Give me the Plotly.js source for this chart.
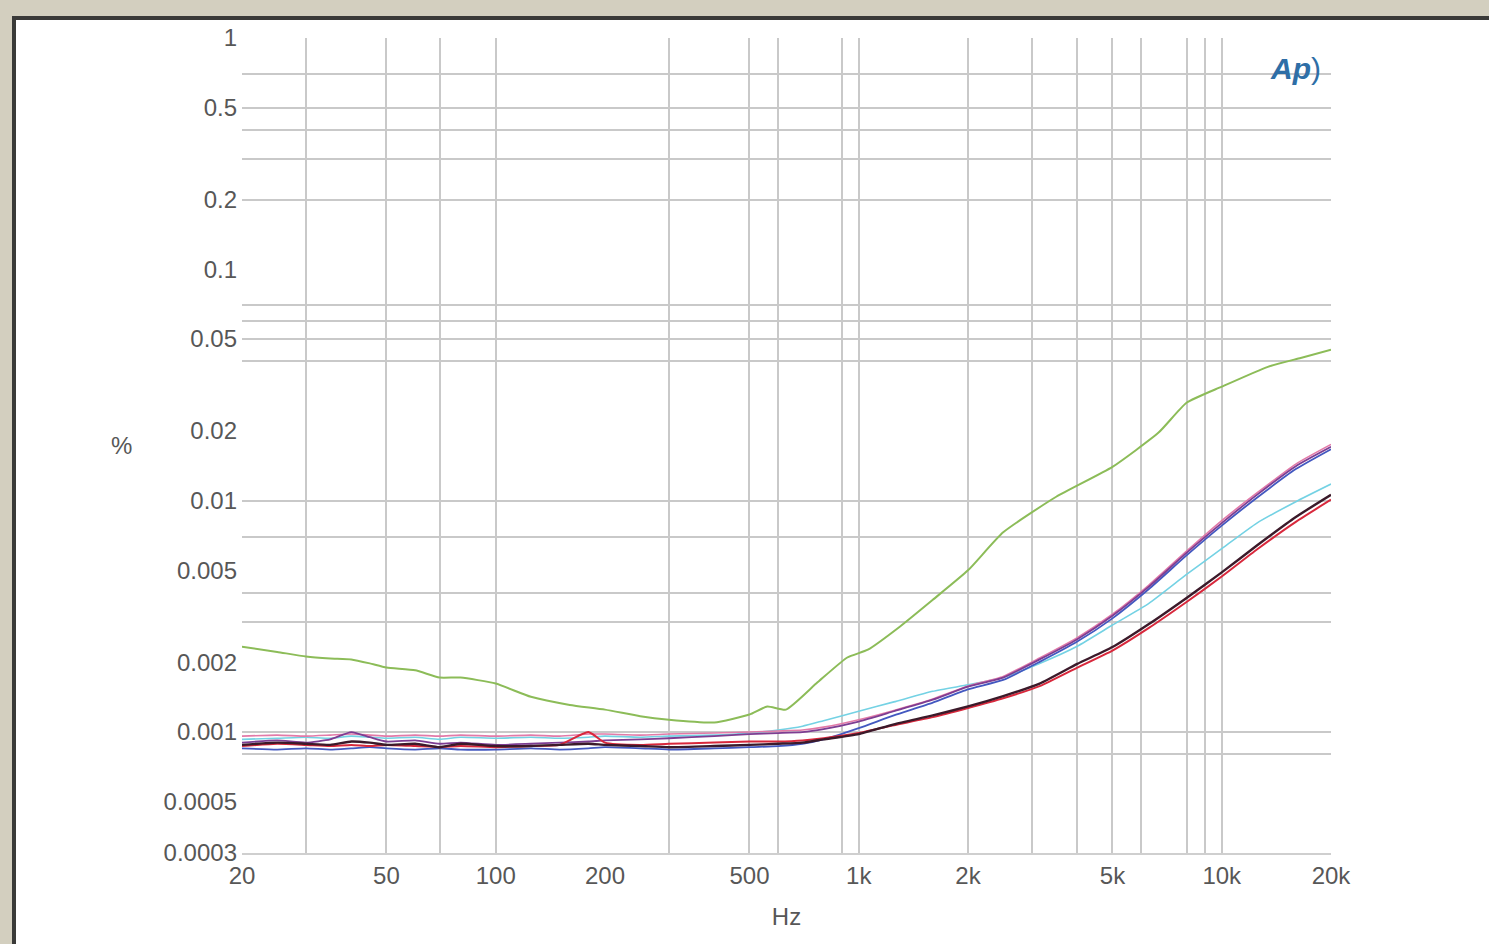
<!DOCTYPE html>
<html>
<head>
<meta charset="utf-8">
<script src="https://cdn.plot.ly/plotly-3.0.1.min.js"></script>
<style>
  html, body { margin: 0; padding: 0; width: 1489px; height: 944px; overflow: hidden; background: #d3cfbf; }
  #chart { position: absolute; left: 12px; top: 16px; width: 1473px; height: 924px;
           border-left: 4px solid #3a3a38; border-top: 4px solid #3a3a38; background: #fff; }
</style>
</head>
<body>
<div id="chart"></div>
<script>
// ---- data ----
const greenFreq = [20, 25, 30, 35, 40, 45, 50, 60, 70, 80, 100, 125, 160, 200, 250, 300, 400, 500, 560, 630, 770, 930, 1060, 1300, 1600, 2000, 2500, 3500, 5000, 6700, 8000, 10000, 13400, 16500, 20000];
const greenVal  = [0.00234, 0.00222, 0.00212, 0.00208, 0.00206, 0.00198, 0.00190, 0.00185, 0.00172, 0.00172, 0.00162, 0.00142, 0.00131, 0.00125, 0.00117, 0.00113, 0.00110, 0.00119, 0.00129, 0.00125, 0.00164, 0.00210, 0.00227, 0.00286, 0.00373, 0.0050, 0.0073, 0.0104, 0.0140, 0.0197, 0.0265, 0.0311, 0.0379, 0.0414, 0.0449];

const freq = [20, 25, 30, 35, 40, 45, 50, 60, 70, 80, 100, 125, 150, 180, 200, 250, 300, 400, 500,
              600, 700, 800, 1000, 1250, 1600, 2000, 2500, 3150, 4000, 5000, 6300, 8000, 10000, 12500, 16000, 20000];

const purpleVal = [0.00090, 0.00092, 0.00090, 0.00093, 0.00100, 0.00095, 0.00091, 0.00092, 0.00089, 0.00090, 0.00088, 0.00089, 0.00090, 0.00091, 0.00092, 0.00093, 0.00094, 0.00096, 0.00098,
                   0.00099, 0.00100, 0.00103, 0.00111, 0.00123, 0.00138, 0.00157, 0.00172, 0.00206, 0.00252, 0.00318, 0.00425, 0.00595, 0.0080, 0.0106, 0.0141, 0.0171];
const pinkVal   = [0.00096, 0.00097, 0.00096, 0.00097, 0.00098, 0.00097, 0.00096, 0.00097, 0.00096, 0.00097, 0.00096, 0.00097, 0.00096, 0.00098, 0.00098, 0.00097, 0.00098, 0.00099, 0.00100,
                   0.00101, 0.00102, 0.00105, 0.00113, 0.00124, 0.00139, 0.00158, 0.00174, 0.00209, 0.00256, 0.00323, 0.00432, 0.00605, 0.0082, 0.0108, 0.0144, 0.0175];
const blueVal   = [0.00085, 0.00084, 0.00085, 0.00084, 0.00085, 0.00086, 0.00085, 0.00084, 0.00085, 0.00084, 0.00084, 0.00085, 0.00084, 0.00085, 0.00086, 0.00085, 0.00084, 0.00085, 0.00086,
                   0.00087, 0.00089, 0.00093, 0.00104, 0.00118, 0.00134, 0.00153, 0.00168, 0.00201, 0.00246, 0.00310, 0.00415, 0.00580, 0.0078, 0.0103, 0.0137, 0.0167];
const cyanVal   = [0.00093, 0.00094, 0.00095, 0.00094, 0.00096, 0.00095, 0.00094, 0.00095, 0.00093, 0.00095, 0.00094, 0.00095, 0.00094, 0.00095, 0.00096, 0.00095, 0.00096, 0.00097, 0.00099,
                   0.00102, 0.00106, 0.00112, 0.00123, 0.00135, 0.00150, 0.00160, 0.00172, 0.00198, 0.00235, 0.00290, 0.00360, 0.00480, 0.0062, 0.0080, 0.0099, 0.0118];
const darkVal   = [0.00088, 0.00090, 0.00089, 0.00088, 0.00091, 0.00090, 0.00088, 0.00089, 0.00086, 0.00089, 0.00087, 0.00087, 0.00088, 0.00089, 0.00088, 0.00087, 0.00086, 0.00087, 0.00088,
                   0.00089, 0.00090, 0.00093, 0.00098, 0.00108, 0.00118, 0.00129, 0.00143, 0.00162, 0.00197, 0.00233, 0.00293, 0.00380, 0.00490, 0.00640, 0.0085, 0.0106];
const redVal    = [0.00087, 0.00089, 0.00088, 0.00087, 0.00088, 0.00087, 0.00088, 0.00087, 0.00086, 0.00087, 0.00086, 0.00087, 0.00088, 0.00100, 0.00090, 0.00088, 0.00089, 0.00090, 0.00091,
                   0.00091, 0.00092, 0.00094, 0.00099, 0.00107, 0.00116, 0.00127, 0.00140, 0.00158, 0.00190, 0.00225, 0.00282, 0.00365, 0.00470, 0.00615, 0.0081, 0.0101];

const xTickVals = [20, 50, 100, 200, 500, 1000, 2000, 5000, 10000, 20000];
const xTickText = ['20', '50', '100', '200', '500', '1k', '2k', '5k', '10k', '20k'];
const yTickVals = [1, 0.5, 0.2, 0.1, 0.05, 0.02, 0.01, 0.005, 0.002, 0.001, 0.0005, 0.0003];
const yTickText = ['1', '0.5', '0.2', '0.1', '0.05', '0.02', '0.01', '0.005', '0.002', '0.001', '0.0005', '0.0003'];
const xGridVals = [30, 50, 70, 100, 300, 500, 600, 900, 1000, 2000, 3000, 4000, 5000, 6000, 8000, 9000, 10000, 20000];
const yGridVals = [1, 0.7, 0.5, 0.4, 0.3, 0.2, 0.07, 0.06, 0.05, 0.04, 0.01, 0.007, 0.004, 0.003, 0.001, 0.0008];
const xRange = [20, 20000];
const yRange = [0.0003, 1];

// ---- traces ----
function line(x, y, color, width) {
  return { x: x, y: y, type: 'scatter', mode: 'lines', line: { color: color, width: width, shape: 'spline', smoothing: 0.5 },
           hoverinfo: 'skip', showlegend: false };
}
const traces = [
  { x: xRange, y: yRange, xaxis: 'x2', yaxis: 'y2', type: 'scatter', mode: 'markers',
    marker: { opacity: 0 }, hoverinfo: 'skip', showlegend: false },
  line(freq, cyanVal, '#74d2e4', 1.6),
  line(freq, pinkVal, '#e27aa8', 1.6),
  line(freq, blueVal, '#4358c0', 1.8),
  line(freq, purpleVal, '#7d3d92', 1.8),
  line(freq, redVal, '#d8283c', 2.0),
  line(freq, darkVal, '#3b1a2a', 2.4),
  line(greenFreq, greenVal, '#8cbc58', 2.0)
];

const tickFont = { family: 'Liberation Sans, Arial, sans-serif', size: 24, color: '#575757' };
const lg = v => Math.log10(v);

const layout = {
  width: 1473, height: 924,
  margin: { l: 226, r: 158, t: 18, b: 91 },
  paper_bgcolor: '#ffffff', plot_bgcolor: '#ffffff',
  xaxis: {
    type: 'log', range: [lg(xRange[0]), lg(xRange[1])], tickmode: 'array',
    tickvals: xTickVals, ticktext: xTickText, tickfont: tickFont, ticks: '',
    showgrid: false, zeroline: false, showline: true, linecolor: '#cfcfcf', linewidth: 2,
    title: { text: 'Hz', font: tickFont, standoff: 20 }, automargin: false
  },
  yaxis: {
    type: 'log', range: [lg(yRange[0]), lg(yRange[1])], tickmode: 'array',
    tickvals: yTickVals, ticktext: yTickText, tickfont: tickFont, ticks: '',
    ticklabelstandoff: 4,
    showgrid: false, zeroline: false, showline: false, automargin: false
  },
  xaxis2: {
    type: 'log', range: [lg(xRange[0]), lg(xRange[1])], overlaying: 'x', anchor: 'y2',
    tickmode: 'array', tickvals: xGridVals, showticklabels: false, ticks: '',
    showgrid: true, gridcolor: '#c9c9c9', gridwidth: 2, zeroline: false, showline: false
  },
  yaxis2: {
    type: 'log', range: [lg(yRange[0]), lg(yRange[1])], overlaying: 'y', anchor: 'x2',
    tickmode: 'array', tickvals: yGridVals, showticklabels: false, ticks: '',
    showgrid: true, gridcolor: '#c9c9c9', gridwidth: 2, zeroline: false, showline: false
  },
  annotations: [{
    xref: 'paper', yref: 'paper', x: 0.967, y: 0.963, xanchor: 'center', yanchor: 'middle',
    text: '<b><i>Ap</i></b>)', showarrow: false,
    font: { family: 'Liberation Sans, Arial, sans-serif', size: 30, color: '#2e6ea6' }
  }, {
    xref: 'paper', yref: 'paper', x: -0.111, y: 0.5, xanchor: 'center', yanchor: 'middle',
    text: '%', showarrow: false, font: tickFont
  }],
  showlegend: false
};

Plotly.newPlot('chart', traces, layout, { displayModeBar: false, staticPlot: true });
</script>
</body>
</html>
